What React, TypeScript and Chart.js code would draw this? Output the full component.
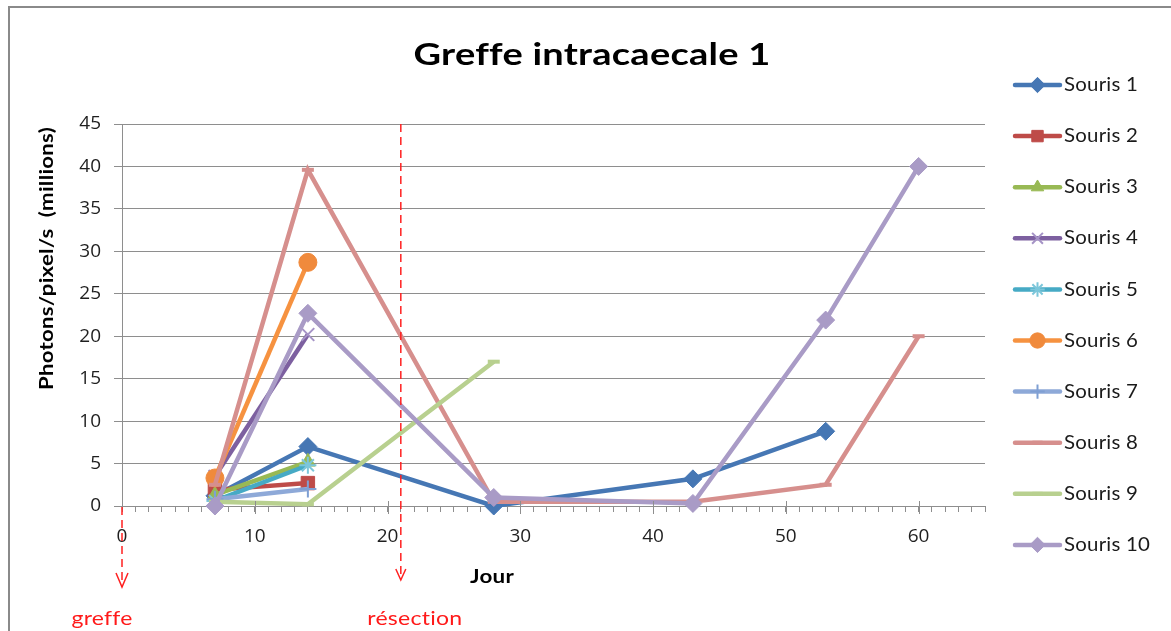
import React, { useEffect, useRef } from 'react';
import { Chart, registerables } from 'chart.js';
import { drawPoint } from 'chart.js/helpers';

Chart.register(...registerables);

// ---------- data ----------
const chartTitle = 'Greffe intracaecale 1';
const yAxisTitle = 'Photons/pixel/s  (millions)';
const xAxisTitle = 'Jour';

const seriesNames = ['Souris 1', 'Souris 2', 'Souris 3', 'Souris 4', 'Souris 5', 'Souris 6', 'Souris 7', 'Souris 8', 'Souris 9', 'Souris 10'];

const days1 = [7, 14, 28, 43, 53];
const values1 = [1.2, 7.0, 0.0, 3.2, 8.8];
const days2 = [7, 14];
const values2 = [1.9, 2.7];
const days3 = [7, 14];
const values3 = [1.3, 5.2];
const days4 = [7, 14];
const values4 = [3.5, 20.2];
const days5 = [7, 14];
const values5 = [0.6, 4.8];
const days6 = [7, 14];
const values6 = [3.3, 28.7];
const days7 = [7, 14];
const values7 = [0.8, 2.0];
const days8 = [7, 14, 28, 43, 53, 60];
const values8 = [2.5, 39.6, 0.5, 0.5, 2.5, 20.0];
const days9 = [7, 14, 28];
const values9 = [0.5, 0.2, 17.0];
const days10 = [7, 14, 28, 43, 53, 60];
const values10 = [0.0, 22.7, 1.0, 0.3, 21.9, 40.0];

const allDays = [days1, days2, days3, days4, days5, days6, days7, days8, days9, days10];
const allValues = [values1, values2, values3, values4, values5, values6, values7, values8, values9, values10];

const eventDays = [0, 21];
const eventLabels = ['greffe', 'résection'];

const xMin = 0;
const xMax = 65;
const yMin = 0;
const yMax = 45;
const yStep = 5;

// ---------- styles ----------
const lineColors = ['#4677B4', '#BE4B48', '#98B954', '#7D60A0', '#46AAC5', '#F69240', '#8EA9D8', '#D68F8D', '#B8D08F', '#A99BC6'];
const markerFill = ['#4677B4', '#BE4B48', '#98B954', '#A593C6', '#7CC6DA', '#F08A3C', '#7F9FD3', '#D68F8D', '#B8D08F', '#A99BC6'];
const markerStyles = ['rectRot', 'rect', 'triangle', 'crossRot', 'star', 'circle', 'cross', 'line', 'line', 'rectRot'];
const markerRadius = [9, 9.5, 8.5, 9, 8.5, 9, 8.5, 6, 6, 9];
const markerBorderW = [1, 1, 1, 2, 2, 1, 2, 4, 4, 1];

const FONT = 'Lato, "Open Sans", "DejaVu Sans", sans-serif';
const TICK_FONT = '"Open Sans", Lato, sans-serif';
const GRID = '#8e8e8e';

function stretchText(ctx: any, text: string, x: number, y: number, font: string, align: string, targetW: number | null, sxFixed?: number) {
  ctx.save();
  ctx.font = font;
  try { ctx.letterSpacing = '0.2px'; } catch (e) { /* ignore */ }
  const w = ctx.measureText(text).width;
  const sx = sxFixed != null ? sxFixed : (targetW ? targetW / w : 1);
  ctx.translate(x, y);
  ctx.scale(sx, 1);
  ctx.textAlign = align;
  ctx.fillText(text, 0, 0);
  ctx.restore();
  return sx;
}

const customDraw = {
  id: 'customDraw',
  afterDatasetsDraw(chart: any) {
    const { ctx, chartArea, scales } = chart;
    const xs = scales.x;
    ctx.save();
    // major x ticks crossing the axis
    ctx.strokeStyle = GRID;
    ctx.lineWidth = 1;
    ctx.beginPath();
    for (let v = xMin + 10; v <= xMax; v += 10) {
      const px = Math.round(xs.getPixelForValue(v)) + 0.5;
      ctx.moveTo(px, chartArea.bottom - 5);
      ctx.lineTo(px, chartArea.bottom + 8);
    }
    ctx.stroke();
    ctx.strokeStyle = '#ff2020';
    ctx.lineWidth = 1.5;
    const x0 = xs.getPixelForValue(eventDays[0]);
    const x1 = xs.getPixelForValue(eventDays[1]);
    ctx.setLineDash([8, 5]);
    ctx.beginPath();
    ctx.moveTo(x0, chartArea.bottom + 1);
    ctx.lineTo(x0, 586);
    ctx.moveTo(x1, chartArea.top);
    ctx.lineTo(x1, 579);
    ctx.stroke();
    ctx.setLineDash([]);
    ctx.beginPath();
    ctx.moveTo(x0 - 6, 573);
    ctx.lineTo(x0, 587);
    ctx.lineTo(x0 + 6, 573);
    ctx.moveTo(x1 - 5, 569);
    ctx.lineTo(x1, 580);
    ctx.lineTo(x1 + 5, 569);
    ctx.stroke();
    ctx.fillStyle = '#ff1a1a';
    ctx.textBaseline = 'alphabetic';
    stretchText(ctx, eventLabels[0], x0 - 20, 625, '20px ' + FONT, 'center', 61);
    stretchText(ctx, eventLabels[1], x1 + 14, 625, '20px ' + FONT, 'center', 95);
    ctx.restore();
  },
  afterDraw(chart: any) {
    const { ctx } = chart;
    ctx.save();
    // frame
    ctx.strokeStyle = '#8a8a8a';
    ctx.lineWidth = 2;
    ctx.beginPath();
    ctx.moveTo(9, 640);
    ctx.lineTo(9, 7);
    ctx.lineTo(1180, 7);
    ctx.stroke();
    // title
    ctx.fillStyle = '#000';
    ctx.textBaseline = 'middle';
    stretchText(ctx, chartTitle, 592, 55, 'bold 31px ' + FONT, 'center', 357);
    // x axis title
    stretchText(ctx, xAxisTitle, 492, 577, 'bold 19px ' + FONT, 'center', 44);
    // y axis title (rotated)
    ctx.save();
    ctx.translate(47, 127);
    ctx.rotate(-Math.PI / 2);
    stretchText(ctx, yAxisTitle, 0, 0, 'bold 18px ' + FONT, 'right', 263);
    ctx.restore();
    // legend
    const ly0 = 85;
    const lstep = 51.1;
    ctx.font = '19px ' + FONT;
    try { ctx.letterSpacing = '0.2px'; } catch (e) { /* ignore */ }
    const legendSx = 74 / ctx.measureText(seriesNames[0]).width;
    chart.data.datasets.forEach((ds: any, i: number) => {
      const y = ly0 + i * lstep;
      ctx.save();
      ctx.strokeStyle = ds.borderColor;
      ctx.lineWidth = 4.5;
      ctx.lineCap = 'round';
      ctx.beginPath();
      ctx.moveTo(1015, y);
      ctx.lineTo(1060, y);
      ctx.stroke();
      ctx.lineCap = 'butt';
      ctx.fillStyle = ds.pointBackgroundColor;
      ctx.strokeStyle = ds.pointBorderColor;
      ctx.lineWidth = ds.pointBorderWidth;
      drawPoint(ctx, { pointStyle: ds.pointStyle, radius: ds.pointRadius * 0.85, rotation: 0, borderWidth: ds.pointBorderWidth }, 1037.5, y);
      ctx.restore();
      ctx.fillStyle = '#1a1a1a';
      ctx.textBaseline = 'middle';
      stretchText(ctx, seriesNames[i], 1064, y, '19px ' + FONT, 'left', null, legendSx);
    });
    ctx.restore();
  },
};

export default function App() {
  const ref = useRef<HTMLCanvasElement | null>(null);
  useEffect(() => {
    if (!ref.current) return;
    const datasets = seriesNames.map((name, i) => ({
      label: name,
      data: allDays[i].map((d, j) => ({ x: d, y: allValues[i][j] })),
      borderColor: lineColors[i],
      backgroundColor: lineColors[i],
      borderWidth: 4.5,
      pointStyle: markerStyles[i],
      pointRadius: markerRadius[i],
      pointBackgroundColor: markerFill[i],
      pointBorderColor: markerFill[i],
      pointBorderWidth: markerBorderW[i],
      pointHoverRadius: markerRadius[i],
      tension: 0,
      clip: false as any,
      order: seriesNames.length - i,
    }));
    const chart = new Chart(ref.current, {
      type: 'line',
      data: { datasets },
      options: {
        animation: false,
        responsive: false,
        events: [],
        layout: { padding: { top: 124, right: 186, left: 0, bottom: 0 } },
        plugins: {
          legend: { display: false },
          title: { display: false },
          tooltip: { enabled: false },
        },
        scales: {
          x: {
            type: 'linear',
            min: xMin,
            max: xMax,
            afterFit: (s: any) => { s.height = 125; },
            ticks: {
              stepSize: 1,
              maxTicksLimit: 100,
              autoSkip: false,
              maxRotation: 0,
              padding: 13,
              color: '#1f1f1f',
              font: { family: TICK_FONT, size: 19 },
              callback: (v: any) => (Number(v) % 10 === 0 ? String(v) : ''),
            },
            grid: { drawOnChartArea: false, drawTicks: true, tickLength: 6, color: GRID },
            border: { display: true, color: GRID, width: 1 },
          },
          y: {
            type: 'linear',
            min: yMin,
            max: yMax,
            afterFit: (s: any) => { s.width = 122; },
            ticks: {
              stepSize: yStep,
              padding: 13,
              color: '#1f1f1f',
              font: { family: TICK_FONT, size: 19 },
            },
            grid: { color: GRID, tickLength: 8, drawTicks: true },
            border: { display: true, color: GRID, width: 1 },
          },
        },
      },
      plugins: [customDraw],
    });
    return () => chart.destroy();
  }, []);
  return (
    <div style={{ position: 'absolute', left: 0, top: 0, width: 1171, height: 631, background: '#fff' }}>
      <canvas ref={ref} width={1171} height={631} style={{ display: 'block' }} />
    </div>
  );
}
